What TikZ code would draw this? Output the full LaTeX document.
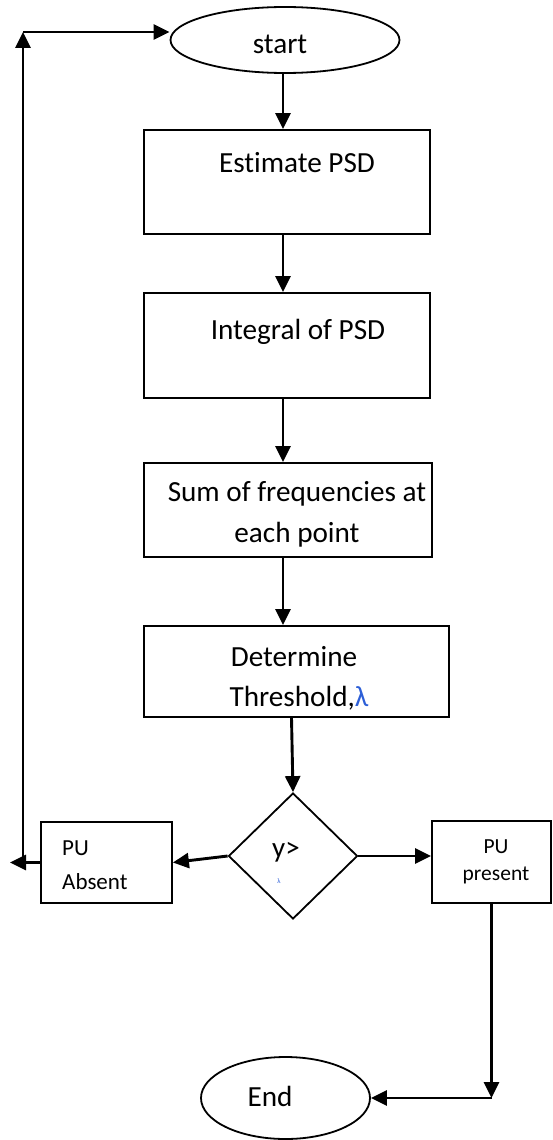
\documentclass[tikz,border=0pt]{standalone}
\usepackage{fontspec}
\setmainfont{Carlito}[Ligatures={NoCommon}]
\usetikzlibrary{shapes.geometric,arrows.meta,calc}
\definecolor{lam}{RGB}{45,95,215}
\begin{document}
\begin{tikzpicture}[x=1pt,y=-1pt,
  box/.style={draw, line width=1.8pt, rectangle, inner sep=0pt},
  term/.style={draw, line width=1.8pt, ellipse, inner sep=0pt},
  dec/.style={draw, line width=1.8pt, diamond, inner sep=0pt},
  txt/.style={font=\fontsize{29.2}{41}\selectfont, inner sep=0pt, anchor=base},
  pu/.style={font=\fontsize{23}{33}\selectfont, inner sep=0pt, anchor=base},
  flow/.style={line width=2.9pt, -{Triangle[length=16pt,width=15pt]}}]
\useasboundingbox (0,0) rectangle (553,1140);

% terminals
\node[term, minimum width=229pt, minimum height=66pt] (start) at (285,40) {};
\node[txt] (starttxt) at (280,53) {start};
\node[term, minimum width=169pt, minimum height=82pt] (end) at (285.5,1098) {};
\node[txt] (endtxt) at (270,1106) {End};

% process boxes
\node[box, minimum width=286pt, minimum height=104pt] (est) at (287,182) {};
\node[txt] (esttxt) at (297,172) {Estimate PSD};

\node[box, minimum width=286pt, minimum height=105pt] (int) at (287,345.5) {};
\node[txt] (inttxt) at (298,339) {Integral of PSD};

\node[box, minimum width=288pt, minimum height=94pt] (sum) at (288,510) {};
\node[txt] (sumtxtA) at (297,501) {Sum of frequencies at};
\node[txt] (sumtxtB) at (297,542) {each point};

\node[box, minimum width=305pt, minimum height=91pt] (det) at (296.5,671.5) {};
\node[txt] (dettxtA) at (294,666) {Determine};
\node[txt] (dettxtB) at (299,706) {Threshold,\textcolor{lam}{λ}};

% decision
\node[dec, minimum width=129pt, minimum height=126pt] (dec) at (293,856) {};
\node[font=\fontsize{29}{30}\selectfont, inner sep=0pt, anchor=base] (dectxt) at (286,857) {y>};
\node[font=\fontsize{7}{8}\selectfont, text=lam, inner sep=0pt] (declam) at (279,881) {λ};

% outcomes
\node[box, minimum width=131pt, minimum height=81pt] (abs) at (106.5,862.5) {};
\node[pu, anchor=base west] (abstxtA) at (62,855) {PU};
\node[pu, anchor=base west] (abstxtB) at (62,889) {Absent};

\node[box, minimum width=119pt, minimum height=82pt] (pre) at (491.5,862) {};
\node[pu, font=\fontsize{21.5}{30}\selectfont] (pretxtA) at (496,853) {PU};
\node[pu, font=\fontsize{21.5}{30}\selectfont] (pretxtB) at (496,880) {present};

% routing points
\coordinate (spine) at (283,0);
\coordinate (loopL) at (10,0);
\coordinate (corner) at (23,32);

% main flow
\draw[flow] (start.south -| spine) -- (est.north -| spine);
\draw[flow] (est.south -| spine) -- (int.north -| spine);
\draw[flow] (int.south -| spine) -- (sum.north -| spine);
\draw[flow] (sum.south -| spine) -- (det.north -| spine);
\draw[flow] ($(det.south)+(-5,0)$) -- (dec.north);
\draw[flow] (dec.west) -- (abs.east);
\draw[flow] (dec.east) -- (dec.east -| pre.west);

% loop back to start
\draw[flow] (abs.west) -- (abs.west -| loopL);
\draw[flow] (abs.west -| corner) -- (corner);
\draw[flow] (corner) -- (corner -| start.west);

% to end
\draw[flow] (pre.south) -- (pre.south |- end.east);
\draw[flow] (pre.south |- end.east) -- (end.east);
\end{tikzpicture}
\end{document}
